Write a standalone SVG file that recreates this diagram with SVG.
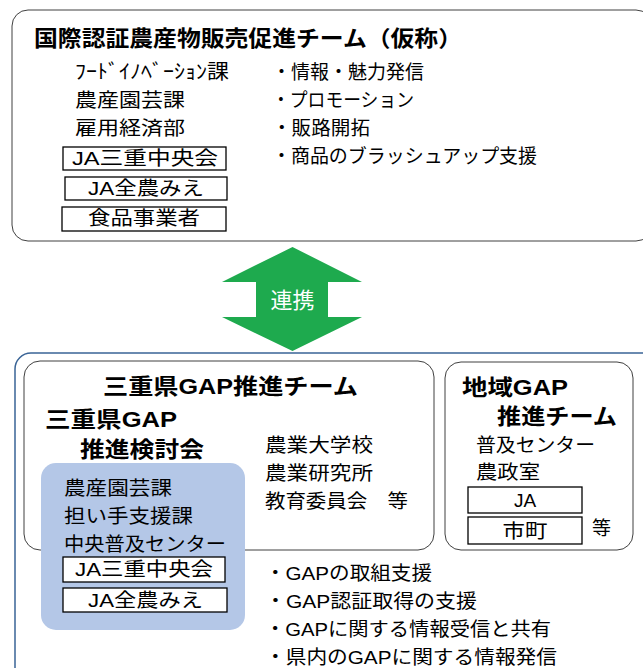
<svg xmlns="http://www.w3.org/2000/svg" width="643" height="668" viewBox="0 0 643 668">
<style>
text{font-family:"Liberation Sans","Noto Sans CJK JP",sans-serif;fill:#000;font-size:19px}
.t{font-size:22px;font-weight:bold}
.k{font-size:20px}
.box{fill:#fff;stroke:#000;stroke-width:1.3}
.frame{fill:#fff;stroke:#404040;stroke-width:1}
.w{fill:#fff;font-size:22px}
</style>
<rect width="643" height="668" fill="#fff"/>
<g id="intl-team">
<rect class="frame" x="12" y="10" width="640" height="231" rx="16"/>
<text class="t" x="34" y="46" textLength="428" lengthAdjust="spacingAndGlyphs">国際認証農産物販売促進チーム（仮称）</text>
<text class="k" x="75" y="79" textLength="154" lengthAdjust="spacingAndGlyphs">ﾌｰﾄﾞｲﾉﾍﾞｰｼｮﾝ課</text>
<text x="75" y="107" textLength="110" lengthAdjust="spacingAndGlyphs">農産園芸課</text>
<text x="75" y="135" textLength="110" lengthAdjust="spacingAndGlyphs">雇用経済部</text>
<rect class="box" x="63" y="147" width="163" height="23"/>
<text x="72" y="165" textLength="146" lengthAdjust="spacingAndGlyphs">JA三重中央会</text>
<rect class="box" x="65" y="177" width="162" height="23"/>
<text x="88" y="195" textLength="116" lengthAdjust="spacingAndGlyphs">JA全農みえ</text>
<rect class="box" x="62" y="207" width="164" height="24"/>
<text x="88" y="225" textLength="112" lengthAdjust="spacingAndGlyphs">食品事業者</text>
<text x="272" y="79" textLength="152" lengthAdjust="spacingAndGlyphs">・情報・魅力発信</text>
<text x="272" y="107" textLength="142" lengthAdjust="spacingAndGlyphs">・プロモーション</text>
<text x="272" y="135" textLength="98" lengthAdjust="spacingAndGlyphs">・販路開拓</text>
<text x="272" y="163" textLength="265" lengthAdjust="spacingAndGlyphs">・商品のブラッシュアップ支援</text>
</g>
<g id="connectors">
<polygon points="292.5,247 362,282 328,282 328,317 362,317 292.5,351 222,317 256,317 256,282 222,282" fill="#1EAA4E"/>
<text class="w" x="292.5" y="308" text-anchor="middle">連携</text>
</g>
<g id="mie-outer">
<rect x="15" y="353" width="650" height="340" rx="16" fill="#fff" stroke="#3A6496" stroke-width="1.5"/>
</g>
<g id="mie-team">
<rect class="frame" x="24" y="361" width="410" height="189" rx="16"/>
<text class="t" x="103" y="394" textLength="255" lengthAdjust="spacingAndGlyphs">三重県GAP推進チーム</text>
<text class="t" x="45" y="427" textLength="132" lengthAdjust="spacingAndGlyphs">三重県GAP</text>
<text class="t" x="80" y="457" textLength="124" lengthAdjust="spacingAndGlyphs">推進検討会</text>
<text x="265" y="452" textLength="108" lengthAdjust="spacingAndGlyphs">農業大学校</text>
<text x="265" y="480" textLength="108" lengthAdjust="spacingAndGlyphs">農業研究所</text>
<text x="265" y="508" textLength="143" lengthAdjust="spacingAndGlyphs">教育委員会　等</text>
</g>
<g id="review-council">
<rect x="41" y="463" width="204" height="167" rx="15" fill="#B4C7E7"/>
<text x="64" y="495" textLength="108" lengthAdjust="spacingAndGlyphs">農産園芸課</text>
<text x="64" y="523" textLength="129" lengthAdjust="spacingAndGlyphs">担い手支援課</text>
<text x="64" y="551" textLength="162" lengthAdjust="spacingAndGlyphs">中央普及センター</text>
<rect class="box" x="63" y="557" width="162" height="25"/>
<text x="75" y="576" textLength="138" lengthAdjust="spacingAndGlyphs">JA三重中央会</text>
<rect class="box" x="63" y="588" width="164" height="24"/>
<text x="88" y="607" textLength="115" lengthAdjust="spacingAndGlyphs">JA全農みえ</text>
</g>
<g id="mie-roles">
<text x="265" y="580" textLength="167" lengthAdjust="spacingAndGlyphs">・GAPの取組支援</text>
<text x="265" y="608" textLength="212" lengthAdjust="spacingAndGlyphs">・GAP認証取得の支援</text>
<text x="265" y="636" textLength="286" lengthAdjust="spacingAndGlyphs">・GAPに関する情報受信と共有</text>
<text x="265" y="664" textLength="292" lengthAdjust="spacingAndGlyphs">・県内のGAPに関する情報発信</text>
</g>
<g id="regional-team">
<rect class="frame" x="445" y="362" width="188" height="188" rx="16"/>
<text class="t" x="462" y="395" textLength="106" lengthAdjust="spacingAndGlyphs">地域GAP</text>
<text class="t" x="497" y="424" textLength="120" lengthAdjust="spacingAndGlyphs">推進チーム</text>
<text x="476" y="452" textLength="119" lengthAdjust="spacingAndGlyphs">普及センター</text>
<text x="476" y="479" textLength="64" lengthAdjust="spacingAndGlyphs">農政室</text>
<rect class="box" x="468" y="487" width="114" height="26"/>
<text x="525" y="507" text-anchor="middle">JA</text>
<rect class="box" x="468" y="517" width="114" height="27"/>
<text x="525" y="538" text-anchor="middle" textLength="45" lengthAdjust="spacingAndGlyphs">市町</text>
<text x="592" y="535" textLength="19" lengthAdjust="spacingAndGlyphs">等</text>
</g>
</svg>
